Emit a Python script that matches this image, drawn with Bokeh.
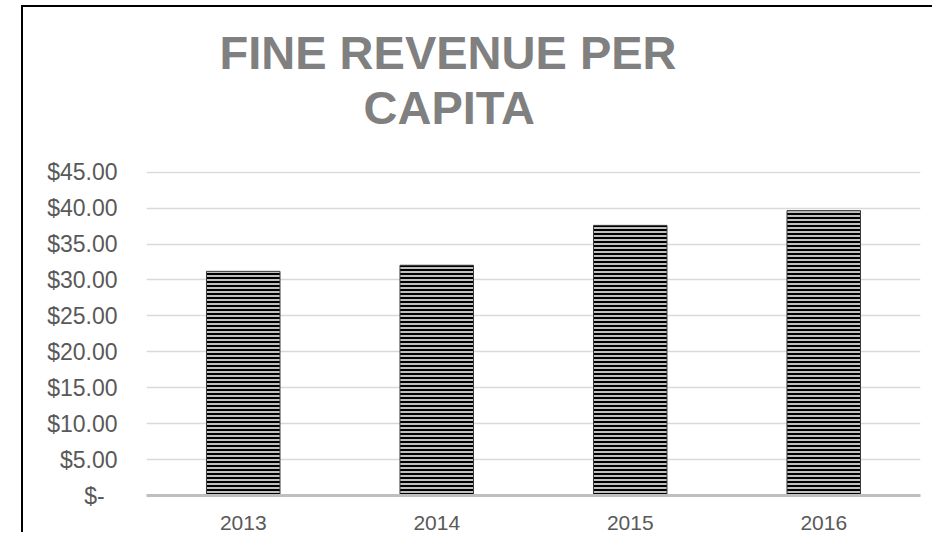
from bokeh.plotting import figure
from bokeh.models import Title, FixedTicker, FactorRange, Range1d
from bokeh.embed import file_html
from bokeh.resources import INLINE

years = ["2013", "2014", "2015", "2016"]
revenue = [31.2, 32.05, 37.6, 39.65]
y_ticks = [0, 5, 10, 15, 20, 25, 30, 35, 40, 45]
y_labels = ["$-\u00a0\u00a0", "$5.00", "$10.00", "$15.00", "$20.00", "$25.00",
            "$30.00", "$35.00", "$40.00", "$45.00"]

p = figure(x_range=FactorRange(*years, range_padding=0), y_range=Range1d(0, 45.1),
           width=911, height=527, output_backend="svg", toolbar_location=None,
           min_border_left=123, min_border_right=14, min_border_top=164,
           min_border_bottom=39, title=None)
p.margin = (5, 0, 0, 21)
p.styles = {"border-left": "2px solid black", "border-top": "2px solid black"}

p.vbar(x=years, top=revenue, width=0.38, fill_color="#c0c0c0",
       hatch_pattern="horizontal_line", hatch_color="black", hatch_scale=4,
       hatch_weight=2, line_color="#3a3a3a", line_width=1)

p.add_layout(Title(text="CAPITA", text_font="Liberation Sans", text_font_size="47px",
                   text_font_style="bold", text_color="#808080", align="left",
                   offset=217, standoff=75), "above")
p.add_layout(Title(text="FINE REVENUE PER", text_font="Liberation Sans", text_font_size="47px",
                   text_font_style="bold", text_color="#808080", align="left",
                   offset=73, standoff=-75), "above")

p.outline_line_color = None
p.xgrid.grid_line_color = None
p.ygrid.grid_line_color = "#d9d9d9"
p.ygrid.grid_line_width = 1.5
p.yaxis.ticker = FixedTicker(ticks=y_ticks)
p.yaxis.major_label_overrides = {t: l for t, l in zip(y_ticks, y_labels)}
p.yaxis.axis_line_color = None
p.yaxis.major_tick_line_color = None
p.yaxis.minor_tick_line_color = None
p.yaxis.major_label_standoff = 23
p.xaxis.axis_line_color = "#bfbfbf"
p.xaxis.axis_line_width = 3
p.xaxis.major_tick_line_color = None
p.xaxis.major_label_standoff = 14
for ax in (p.xaxis, p.yaxis):
    ax.major_label_text_font = "Liberation Sans"
    ax.major_label_text_color = "#595959"
p.xaxis.major_label_text_font_size = "21px"
p.yaxis.major_label_text_font_size = "23px"

open("out.html", "w").write(file_html(p, INLINE))
